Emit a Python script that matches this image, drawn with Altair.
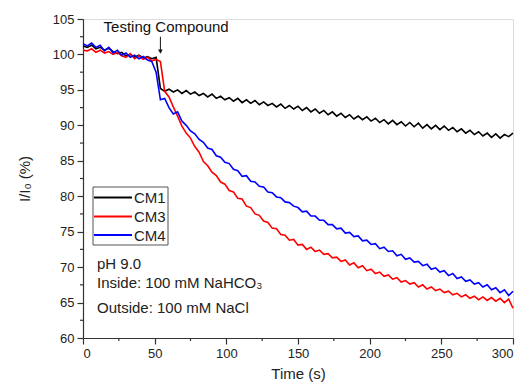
import altair as alt
import pandas as pd

times = list(range(0, 301, 3))

cm1 = [101.2, 101.0, 101.3, 100.8, 101.0, 100.6, 100.9, 100.4, 100.1, 100.3, 99.8, 100.0, 99.6, 99.9, 99.5, 99.7, 99.4, 99.6,
       95.2, 94.8, 95.1, 94.7, 95.0, 94.5, 94.9, 94.4, 94.7, 94.2, 94.5, 94.0, 94.4, 93.8, 94.1, 93.6, 93.9, 93.4, 93.8, 93.2,
       93.6, 93.1, 93.5, 92.9, 93.3, 92.8, 93.1, 92.6, 93.0, 92.4, 92.8, 92.3, 92.7, 92.1, 92.5, 91.9, 92.3, 91.7, 92.1, 91.5,
       91.9, 91.3, 91.7, 91.1, 91.5, 90.9, 91.3, 90.8, 91.2, 90.6, 91.0, 90.4, 90.8, 90.2, 90.7, 90.1, 90.5, 89.9, 90.4, 89.8,
       90.3, 89.6, 90.1, 89.5, 90.0, 89.4, 89.9, 89.3, 89.7, 89.1, 89.5, 88.9, 89.3, 88.7, 89.1, 88.5, 88.9, 88.3, 88.8, 88.2,
       88.7, 88.4, 88.9]

cm3 = [100.6, 100.5, 100.8, 100.3, 100.6, 100.2, 100.4, 100.0, 100.3, 99.8, 99.6, 100.1, 99.4, 99.8, 99.3, 99.6, 99.1, 99.3,
       99.0, 94.8, 94.0, 92.6, 91.3, 89.9, 88.9, 88.2, 87.0, 86.2, 84.9, 84.3, 83.4, 82.9, 82.0, 81.7, 80.8, 80.6, 79.7, 79.6,
       78.6, 78.4, 77.5, 77.3, 76.5, 76.3, 75.5, 75.4, 74.6, 74.5, 73.8, 73.9, 73.1, 73.2, 72.5, 72.8, 72.2, 72.4, 71.8, 71.9,
       71.3, 71.4, 70.8, 71.0, 70.3, 70.6, 69.9, 70.2, 69.5, 69.7, 69.1, 69.3, 68.7, 68.9, 68.3, 68.5, 67.9, 68.1, 67.6, 67.8,
       67.2, 67.5, 66.9, 67.2, 66.7, 66.9, 66.4, 66.6, 66.1, 66.3, 65.8, 66.1, 65.6, 65.9, 65.4, 65.8, 65.3, 65.7, 65.2, 65.6,
       65.0, 65.5, 64.2]

cm4 = [101.5, 101.2, 101.6, 101.0, 101.3, 100.5, 101.0, 100.2, 100.6, 99.9, 100.2, 99.6, 99.9, 99.4, 99.7, 99.2, 99.0,
       97.5, 93.6, 93.8, 92.5, 91.6, 91.9, 90.6, 90.0, 89.2, 88.8, 88.0, 87.6, 86.8, 86.6, 85.7, 85.5, 84.8, 84.6, 83.8, 83.6,
       82.8, 82.9, 82.1, 82.0, 81.4, 81.3, 80.6, 80.5, 79.9, 79.8, 79.2, 79.1, 78.6, 78.4, 77.8, 77.9, 77.2, 77.2, 76.6, 76.6,
       76.0, 76.0, 75.4, 75.5, 74.8, 74.9, 74.3, 74.4, 73.7, 73.8, 73.2, 73.3, 72.6, 72.8, 72.2, 72.3, 71.6, 71.8, 71.1, 71.3,
       70.7, 70.8, 70.2, 70.4, 69.7, 69.9, 69.3, 69.5, 68.8, 69.1, 68.4, 68.6, 68.0, 68.2, 67.6, 67.8, 67.2, 67.5, 66.8, 67.1,
       66.4, 66.8, 66.0, 66.6]

series_names = ["CM1", "CM3", "CM4"]
series_colors = ["#000000", "#ff0000", "#0000ff"]

x_ticks = [0, 50, 100, 150, 200, 250, 300]
x_minor = [25, 75, 125, 175, 225, 275]
y_ticks = [60, 65, 70, 75, 80, 85, 90, 95, 100, 105]
y_minor = [62.5, 67.5, 72.5, 77.5, 82.5, 87.5, 92.5, 97.5, 102.5]

info_lines = ["pH 9.0", "Inside: 100 mM NaHCO\u2083", "Outside: 100 mM NaCl"]
annot_label = "Testing Compound"
annot_time = 54
annot_text_time = 58

assert len(cm1) == len(times) and len(cm3) == len(times) and len(cm4) == len(times)

FONT = "Liberation Sans"
W, H = 430, 319

rows = []
for name, vals in zip(series_names, [cm1, cm3, cm4]):
    for t, v in zip(times, vals):
        rows.append({"t": t, "v": v, "series": name})
df = pd.DataFrame(rows)

xscale = alt.Scale(domain=[0, 300], nice=False, zero=False)
yscale = alt.Scale(domain=[60, 105], nice=False, zero=False)

common_axis = dict(grid=False, tickSize=6, labelPadding=3, labelFontSize=13, titleFontSize=15,
                   labelFont=FONT, titleFont=FONT, domainColor="#333", tickColor="#333",
                   labelColor="#222", titleColor="#222", titleFontWeight="normal",
                   domainWidth=1.2, tickWidth=1.2, labelOverlap=False)
xaxis = alt.Axis(title="Time (s)", values=x_ticks, titlePadding=6, **common_axis)
yaxis = alt.Axis(title="I/I\u2080 (%)", values=y_ticks, titlePadding=20, **common_axis)


def X(field):
    return alt.X(field, type="quantitative", scale=xscale, axis=xaxis)


def Y(field):
    return alt.Y(field, type="quantitative", scale=yscale, axis=yaxis)


lines = alt.Chart(df).mark_line(strokeWidth=1.6).encode(
    x=X("t"),
    y=Y("v"),
    color=alt.Color("series:N", scale=alt.Scale(domain=series_names, range=series_colors), legend=None),
    order=alt.Order("t:Q"),
)

xminor = alt.Chart(pd.DataFrame({"m": x_minor})).mark_rule(color="#333", strokeWidth=1.2).encode(
    x=X("m"), y=alt.value(H), y2=alt.value(H + 3))
yminor = alt.Chart(pd.DataFrame({"m": y_minor})).mark_rule(color="#333", strokeWidth=1.2).encode(
    y=Y("m"), x=alt.value(0), x2=alt.value(-3))

one = pd.DataFrame({"a": [0]})

# annotation
ann_text = alt.Chart(pd.DataFrame({"t": [annot_text_time], "v": [103.2], "label": [annot_label]})).mark_text(
    font=FONT, fontSize=15, align="center", baseline="alphabetic", color="#111").encode(
    x=X("t"), y=Y("v"), text="label:N")
ann_rule = alt.Chart(pd.DataFrame({"t": [annot_time], "v": [102.5], "v2": [100.6]})).mark_rule(
    color="#111", strokeWidth=1).encode(
    x=X("t"), y=Y("v"), y2="v2:Q")
ann_head = alt.Chart(pd.DataFrame({"t": [annot_time], "v": [100.4]})).mark_point(
    shape="triangle-down", filled=True, size=22, color="#111", opacity=1).encode(
    x=X("t"), y=Y("v"))

# legend box
legend_box = alt.Chart(one).mark_rect(fill="white", stroke="#555", strokeWidth=1).encode(
    x=alt.value(10), x2=alt.value(85), y=alt.value(168), y2=alt.value(226))
legend_layers = [legend_box]
row_y = [178.5, 197.5, 216]
for name, col, yy in zip(series_names, series_colors, row_y):
    legend_layers.append(alt.Chart(one).mark_rule(color=col, strokeWidth=2).encode(
        x=alt.value(11), x2=alt.value(49), y=alt.value(yy)))
    legend_layers.append(alt.Chart(one).mark_text(font=FONT, fontSize=15, align="left", baseline="middle",
                                                  color="#222").encode(
        x=alt.value(51), y=alt.value(yy + 0.5), text=alt.value(name)))

info_y = [250, 269, 294]
info_layers = []
for txt, yy in zip(info_lines, info_y):
    info_layers.append(alt.Chart(one).mark_text(font=FONT, fontSize=15, align="left", baseline="alphabetic",
                                                color="#222").encode(
        x=alt.value(14), y=alt.value(yy), text=alt.value(txt)))

chart = alt.layer(lines, xminor, yminor, ann_text, ann_rule, ann_head, *legend_layers, *info_layers).properties(
    width=W, height=H,
    autosize=alt.AutoSizeParams(type="none"),
    padding={"left": 75, "top": 11, "right": 3, "bottom": 47},
).configure_view(stroke=None).configure(background="white")

chart.save("out.html", embed_options={"renderer": "svg", "actions": False})
